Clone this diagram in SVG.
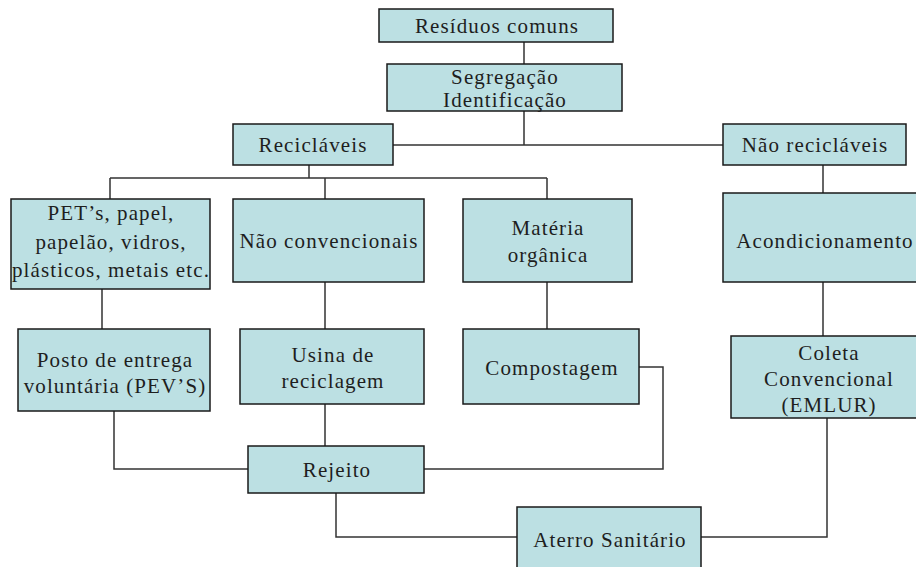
<svg xmlns="http://www.w3.org/2000/svg" width="916" height="567" viewBox="0 0 916 567">
<style>
.box{fill:#bce0e3;stroke:#1a1a1a;stroke-width:1.5}
.t{font-family:"Liberation Serif","Times New Roman",serif;font-size:21px;letter-spacing:1.1px;fill:#1e1e1e;text-anchor:middle}
.c{fill:none;stroke:#333;stroke-width:1.5}
</style>
<rect width="916" height="567" fill="#fff"/>
<g id="connectors">
<path class="c" d="M524 42V64"/>
<path class="c" d="M524 111V145M393 145H723"/>
<path class="c" d="M309 165V178M110 178H547M110 178V199M325 178V199M547 178V199"/>
<path class="c" d="M823 165V193"/>
<path class="c" d="M102 289V329M325 282V329M547 282V329M823 282V336"/>
<path class="c" d="M114 411V469H248M325 404V446M424 469H663V367H639"/>
<path class="c" d="M336 493V537H517M701 537H827V418"/>
</g>
<g id="residuos"><rect class="box" x="379" y="9" width="234" height="33"/><text class="t" x="497" y="33">Resíduos comuns</text></g>
<g id="segregacao"><rect class="box" x="387" y="64" width="235" height="47"/><text class="t" x="505" y="84">Segregação</text><text class="t" x="505" y="107">Identificação</text></g>
<g id="reciclaveis"><rect class="box" x="233" y="124" width="160" height="41"/><text class="t" x="313" y="152">Recicláveis</text></g>
<g id="nao-reciclaveis"><rect class="box" x="723" y="124" width="183" height="41"/><text class="t" x="815" y="152">Não recicláveis</text></g>
<g id="pet"><rect class="box" x="11" y="199" width="199" height="90"/><text class="t" x="111" y="220">PET’s, papel,</text><text class="t" x="111" y="249">papelão, vidros,</text><text class="t" x="111" y="277">plásticos, metais etc.</text></g>
<g id="nao-convencionais"><rect class="box" x="233" y="199" width="191" height="83"/><text class="t" x="329" y="248">Não convencionais</text></g>
<g id="materia"><rect class="box" x="463" y="199" width="169" height="83"/><text class="t" x="548" y="235">Matéria</text><text class="t" x="548" y="262">orgânica</text></g>
<g id="acondicionamento"><rect class="box" x="723" y="193" width="200" height="89"/><text class="t" x="825" y="248">Acondicionamento</text></g>
<g id="posto"><rect class="box" x="18" y="329" width="192" height="82"/><text class="t" x="115" y="367">Posto de entrega</text><text class="t" x="115" y="393">voluntária (PEV’S)</text></g>
<g id="usina"><rect class="box" x="240" y="329" width="184" height="75"/><text class="t" x="333" y="362">Usina de</text><text class="t" x="333" y="388">reciclagem</text></g>
<g id="compostagem"><rect class="box" x="463" y="329" width="176" height="75"/><text class="t" x="552" y="375">Compostagem</text></g>
<g id="coleta"><rect class="box" x="731" y="336" width="200" height="82"/><text class="t" x="829" y="360">Coleta</text><text class="t" x="829" y="386">Convencional</text><text class="t" x="829" y="412">(EMLUR)</text></g>
<g id="rejeito"><rect class="box" x="248" y="446" width="176" height="47"/><text class="t" x="337" y="477">Rejeito</text></g>
<g id="aterro"><rect class="box" x="517" y="507" width="184" height="70"/><text class="t" x="610" y="547">Aterro Sanitário</text></g>
</svg>
